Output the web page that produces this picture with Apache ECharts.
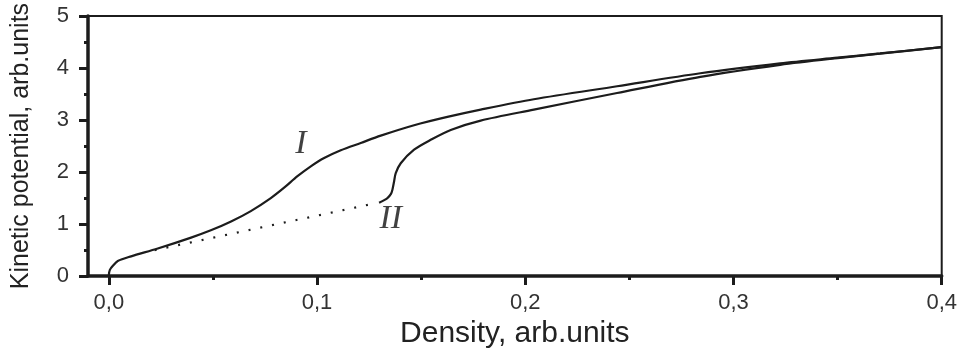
<!DOCTYPE html>
<html>
<head>
<meta charset="utf-8">
<script src="https://cdn.jsdelivr.net/npm/echarts@6/dist/echarts.min.js"></script>
<style>
  html, body { margin: 0; padding: 0; background: #fff; }
  #chart { width: 960px; height: 354px; }
</style>
</head>
<body>
<div id="chart"></div>
<script>
// curve I
const xI = [0, 0.0005, 0.002, 0.0043, 0.0107, 0.0235, 0.0395, 0.049, 0.0587, 0.0682, 0.0778, 0.0842, 0.0906, 0.097, 0.1034, 0.1114, 0.121, 0.1306, 0.1466, 0.1626, 0.1786, 0.2041, 0.2441, 0.2841, 0.3224, 0.35, 0.3704, 0.4];
const yI = [0.02, 0.12, 0.2, 0.29, 0.38, 0.53, 0.74, 0.88, 1.05, 1.25, 1.50, 1.70, 1.92, 2.11, 2.27, 2.42, 2.56, 2.70, 2.90, 3.06, 3.20, 3.40, 3.65, 3.90, 4.09, 4.20, 4.28, 4.40];
// curve II
const xII = [0.1298, 0.1338, 0.1355, 0.1362, 0.137, 0.1378, 0.1402, 0.1466, 0.1546, 0.1642, 0.1786, 0.2041, 0.2441, 0.2841, 0.3224, 0.35, 0.3704, 0.4];
const yII = [1.41, 1.50, 1.58, 1.66, 1.82, 1.98, 2.17, 2.43, 2.62, 2.81, 2.99, 3.20, 3.52, 3.83, 4.06, 4.19, 4.275, 4.40];
// dotted extension
const xDot = [0.022, 0.128];
const yDot = [0.50, 1.40];

const xTicks = [0, 0.1, 0.2, 0.3, 0.4];
const xMinorTicks = [0.05, 0.15, 0.25, 0.35];
const curveLabels = [[0.0922, 2.53, "I"], [0.1354, 1.09, "II"]];

const pairs = (xs, ys) => xs.map((x, i) => [x, ys[i]]);

const chart = echarts.init(document.getElementById("chart"));
const font = "Liberation Sans, Arial, sans-serif";
const ink = "#1c1c1c";

const option = {
  animation: false,
  grid: {
    left: 88, right: 18, top: 16, bottom: 77,
    show: true, borderColor: ink, borderWidth: 2
  },
  xAxis: [
    {
      type: "value", min: -0.01, max: 0.4,
      name: "Density, arb.units", nameLocation: "middle", nameGap: 40,
      nameTextStyle: { fontFamily: font, fontSize: 30, color: "#222" },
      axisLine: { show: true, onZero: false, lineStyle: { color: ink, width: 3.5 } },
      axisTick: { show: true, customValues: xTicks, length: 9, lineStyle: { color: ink, width: 3 } },
      axisLabel: {
        customValues: xTicks, margin: 16, fontFamily: font, fontSize: 22, color: "#333",
        formatter: v => v.toFixed(1).replace(".", ",")
      },
      splitLine: { show: false }
    },
    {
      type: "value", min: -0.01, max: 0.4, position: "bottom",
      axisLine: { show: false, onZero: false },
      axisTick: { show: true, customValues: xMinorTicks, length: 4, lineStyle: { color: ink, width: 3 } },
      axisLabel: { show: false },
      splitLine: { show: false }
    }
  ],
  yAxis: {
    type: "value", min: 0, max: 5, interval: 1,
    name: "Kinetic potential, arb.units", nameLocation: "middle", nameGap: 54,
    nameTextStyle: { fontFamily: font, fontSize: 25, color: "#222" },
    axisLine: { show: true, onZero: false, lineStyle: { color: ink, width: 3.5 } },
    axisTick: { show: true, length: 9, lineStyle: { color: ink, width: 3 } },
    minorTick: { show: true, splitNumber: 2, length: 4, lineStyle: { color: ink, width: 3 } },
    axisLabel: { margin: 19, fontFamily: font, fontSize: 22, color: "#333" },
    splitLine: { show: false }
  },
  series: [
    {
      type: "line", data: pairs(xI, yI), smooth: 0.3, symbol: "none",
      lineStyle: { color: ink, width: 2.2 }
    },
    {
      type: "line", data: pairs(xII, yII), smooth: 0.3, symbol: "none",
      lineStyle: { color: ink, width: 2.2 }
    },
    {
      type: "line", data: pairs(xDot, yDot), symbol: "none",
      lineStyle: { color: ink, width: 2.2, type: [2, 10] }
    },
    {
      type: "scatter", symbolSize: 0,
      data: curveLabels.map(d => ({ value: [d[0], d[1]], name: d[2] })),
      label: {
        show: true, position: "inside", formatter: p => p.name,
        fontFamily: "Liberation Serif, Times New Roman, serif", fontStyle: "italic",
        fontSize: 34, color: "#111"
      }
    }
  ]
};
chart.setOption(option);
</script>
</body>
</html>
